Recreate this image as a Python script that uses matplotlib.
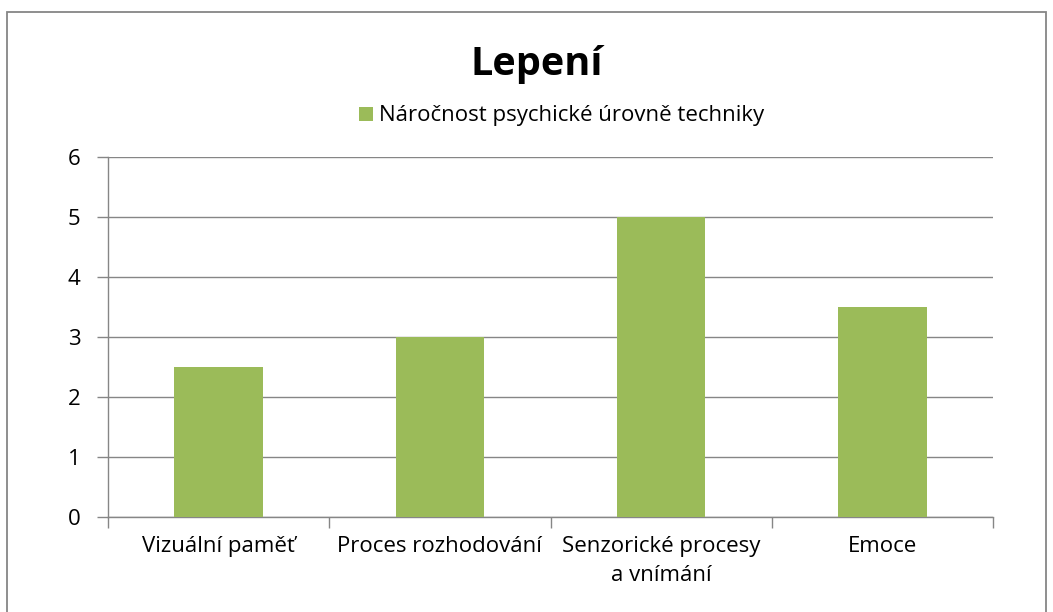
import matplotlib
matplotlib.use("Agg")

import matplotlib.pyplot as plt
from matplotlib.patches import Rectangle

categories = ["Vizuální paměť", "Proces rozhodování", "Senzorické procesy\na vnímání", "Emoce"]
values = [2.5, 3, 5, 3.5]
series_name = "Náročnost psychické úrovně techniky"
title = "Lepení"

green = "#9BBB59"
grey = "#868686"

plt.rcParams["font.family"] = ["Open Sans", "DejaVu Sans"]

fig = plt.figure(figsize=(10.53, 6.12), dpi=100)
ax = fig.add_axes([108 / 1053, 1 - 517 / 612, (993 - 108) / 1053, (517 - 157) / 612])

# chart border like an Excel chart area
fig.patches.append(Rectangle((7 / 1053, -0.1), (1046 - 7) / 1053, 1.1 - 12 / 612,
                             transform=fig.transFigure, fill=False,
                             edgecolor=grey, linewidth=1.3))

x = range(len(categories))
bars = ax.bar(x, values, width=0.4, color=green, label=series_name, zorder=3)

ax.set_xlim(-0.5, len(categories) - 0.5)
ax.set_ylim(0, 6)
ax.set_yticks(range(0, 7))
ax.yaxis.grid(True, color=grey, linewidth=1.0, zorder=0)

ax.set_xticks([i + 0.5 for i in range(-1, len(categories))], minor=False)
ax.set_xticklabels([])
ax.tick_params(axis="x", which="major", length=8, width=1.0, color=grey, direction="out")
ax.set_xticks(list(x), minor=True)
ax.set_xticklabels(categories, minor=True, fontsize=16, linespacing=1.45)
ax.tick_params(axis="x", which="minor", length=0, pad=14)
ax.tick_params(axis="y", length=8, width=1.0, color=grey, labelsize=16, pad=12)

for s in ["top", "right"]:
    ax.spines[s].set_visible(False)
for s in ["left", "bottom"]:
    ax.spines[s].set_color(grey)
    ax.spines[s].set_linewidth(1.0)

fig.text(537 / 1053, 1 - 65 / 612, title, ha="center", va="center",
         fontsize=28.5, fontweight="bold")
fig.legend(handles=[bars], loc="center", bbox_to_anchor=(562 / 1053, 1 - 116 / 612),
           frameon=False, fontsize=16, handlelength=0.6, handleheight=0.6,
           handletextpad=0.3)

fig.savefig("out.png", dpi=100)
